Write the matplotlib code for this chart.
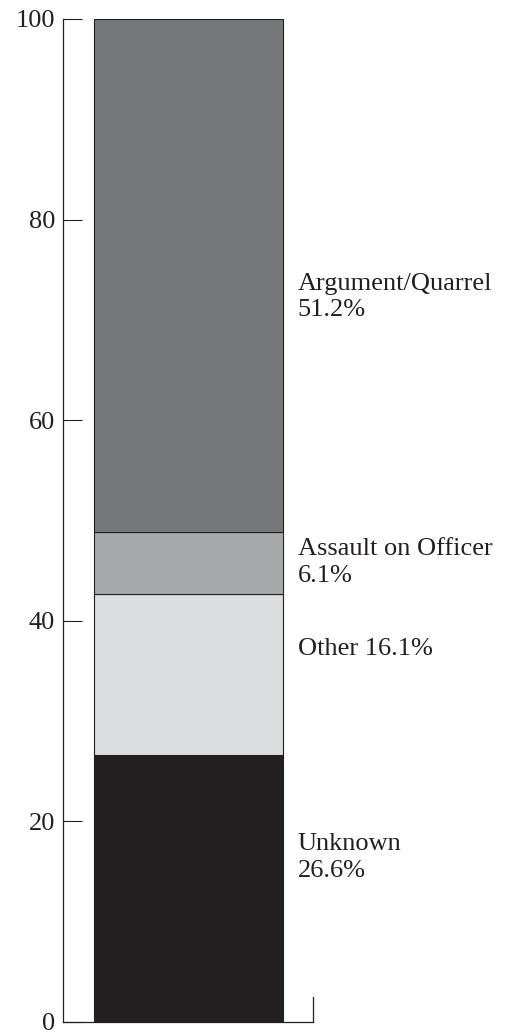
import matplotlib
matplotlib.use('Agg')
import matplotlib.pyplot as plt

# Stacked segments, bottom to top
categories = ['Unknown', 'Other', 'Assault on Officer', 'Argument/Quarrel']
shares = [26.6, 16.1, 6.1, 51.2]
colors = ['#231f20', '#dcdddf', '#a8a9ab', '#77787b']
labels = ['Unknown\n26.6%', 'Other 16.1%', 'Assault on Officer\n6.1%', 'Argument/Quarrel\n51.2%']
label_y = [16.4, 37.2, 45.8, 72.3]
yticks = [0, 20, 40, 60, 80, 100]

plt.rcParams['font.family'] = ['Liberation Serif', 'DejaVu Serif']

fig = plt.figure(figsize=(5.12, 10.32), dpi=100)
ax = fig.add_axes([0.124, 0.0097, 0.487, 0.972])

bottom = 0
for val, col in zip(shares, colors):
    ax.bar(0.501, val, width=0.758, bottom=bottom, color=col,
           edgecolor='#231f20', linewidth=0.8)
    bottom += val

for txt, y in zip(labels, label_y):
    ax.text(0.94, y, txt, fontsize=19, va='center', ha='left',
            color='#231f20', linespacing=1.25, clip_on=False)

ax.set_xlim(0, 1)
ax.set_ylim(0, 100)
ax.set_yticks(yticks)
ax.set_xticks([])
ax.tick_params(axis='y', direction='in', length=13.7, width=0.8,
               pad=6, labelsize=19, colors='#231f20')
ax.spines['top'].set_visible(False)
ax.spines['right'].set_bounds(0, 2.5)
for s in ['left', 'bottom', 'right']:
    ax.spines[s].set_linewidth(0.9)
    ax.spines[s].set_color('#231f20')

fig.savefig('out.png', dpi=100)
